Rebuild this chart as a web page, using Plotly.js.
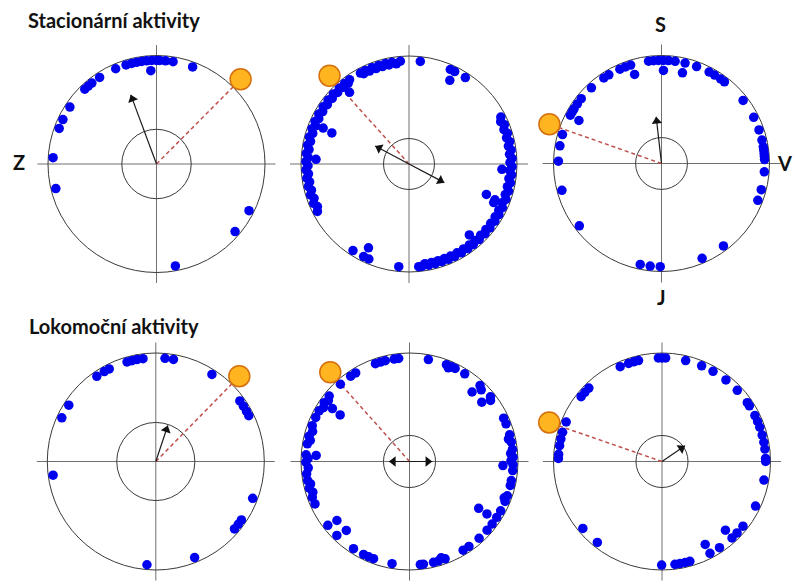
<!DOCTYPE html>
<html><head><meta charset="utf-8">
<script src="https://cdn.plot.ly/plotly-3.0.1.min.js"></script>
<style>html,body{margin:0;padding:0;background:#fff;overflow:hidden}#chart{width:794px;height:581px}</style>
</head><body><div id="chart"></div>
<script>
// ---------- data (bearings in degrees, clockwise from S/north) ----------
const rowTitles = ['Stacionární aktivity', 'Lokomoční aktivity'];
const compassLabels = ['S', 'J', 'Z', 'V'];
const ringRadius = [0.955, 0.935, 0.862, 0.77];   // stacking level of dots on the rim

// Stacionární – panel 1
const st1Ring1 = [273.5,256.3,290.1,295.4,303.3,316.2,318.8,321.4,326.7,336.8,342.9,346.1,348.9,351.7,354.5,357.3,0,1.8,5,9.2,20.4,116.8,130.7,169.5];
const st1Ring1b = [];
const st1Ring2 = [356.5];
const st1Ring3 = [];
// Stacionární – panel 2
const st2Ring1 = [6.3,23.6,26.3,33.1,62.9,67.6,72.6,77.5,82.2,86.9,91.5,96.1,100.6,105.3,110,115.1,119.4,123.7,128.3,132.5,137.1,141.4,145.2,149.5,153.7,157.5,161.4,165.2,169,172.8,174.6,185.7,212.9,206.1,202.9,242.6,247.6,252.6,257.4,262.1,266.7,271.3,275.9,280.6,285.2,290,294.4,299,303.7,308.3,312.8,317.5,321.3,324.8,331.9,334.9,339,342.9,346.8,350.5,355.2];
const st2Ring1b = [65.2,70.1,75,79.8,84.5,89.2,93.8,98.3,103,107.6,112.5,117.2,121.5,126,130.4,134.8,139.2,143.3,147.3,151.6,155.6,159.5,163.3,167.1,170.9,245.1,250.1,255,259.8,264.4,269,273.6,278.2,282.9,287.6,292.2,296.7,301.3,306,310.5,315.1,319.4,323,333.4,337,341,344.8,348.6,352.8];
const st2Ring2 = [26,93.3,112.6,114.5,139.6,205.8,272.9,292.7,320.3];
const st2Ring3 = [111.5,291.9];
// Stacionární – panel 3
const st3Ring1 = [352.8,355.6,358.3,1.1,3.9,7.6,13.2,19.9,27.5,31,35,37.6,52.3,63.4,71,76.9,80.7,82.5,84.4,86,87.8,94.6,104.7,110.9,143.1,156.8,180.7,186.3,191.9,232.8,254.9,271.3,279.9,286.3,297.9,300,302,305.3,308.9,317.2,326,329.3,336.2,339.5,342.6];
const st3Ring1b = [];
const st3Ring2 = [1.2,13,343.2,297.5];
const st3Ring3 = [];
// Lokomoční – panel 4
const lo1Ring1 = [343.9,346.7,349.5,352.9,5.1,9.8,325.3,330.2,333.3,302.9,294.9,262.4,184.9,158,130.6,127.3,124.3,110.8,32.8,54.2,57.7,61.1,63.8];
const lo1Ring1b = [];
const lo1Ring2 = [];
const lo1Ring3 = [];
// Lokomoční – panel 5
const lo2Ring1 = [351.5,354,10.5,20.9,24,26.1,32.2,42.9,51.4,65.3,68.7,75.1,79.2,83.3,87.6,91.8,95,100.6,103.4,109.3,112.7,118.4,122.7,127.1,131.5,137.8,145,148.8,159.9,163.8,166.6,172.3,174,189.7,200.3,203.2,206.3,212.7,224.5,232,245.8,249.7,255.1,259.4,263.1,269.6,273.7,279.8,284.1,290.2,295.2,299.3,304.6,309.2,318.2,325.4,328.7,340.8,343.7,346.5];
const lo2Ring1b = [22.5,45,53,77.2,85.5,89.7,111,161.8,252.4,257.2,266.4,271.7,282,287.2,302,306.9];
const lo2Ring2 = [42,50.6,92.5,124.1,222.5,230.9,273.7,304.5];
const lo2Ring3 = [124.1,303.9];
// Lokomoční – panel 6
const lo3Ring1 = [358,0,2,336.2,341.2,344.1,346.9,13.2,22.5,29.5,38.1,46.6,55.4,57.5,63.7,67.3,70.7,75.2,79.3,83.1,88.3,90,100.3,115.5,128.6,133.6,137.5,146.3,152.4,164.4,167,170,172.8,180.2,218.6,229.8,271.7,274,278.8,282.6,286.4,292.4,308.7,311.9,315.1];
const lo3Ring1b = [];
const lo3Ring2 = [137.3,152.5];
const lo3Ring3 = [];

// orange marker (direction and distance), mean-vector arrows [bearing, length], inner circle radius
const orangeTheta = [44.8, 318, 289.3, 44.4, 318.4, 289.1];
const orangeR     = [1.10, 1.10, 1.10, 1.10, 1.10, 1.10];
const arrowTheta  = [[339.6], [298.1, 117.8], [353.5], [18.4], [270, 90], [55.7]];
const arrowLen    = [[0.68], [0.355, 0.37], [0.435], [0.35], [0.19, 0.21], [0.257]];
const innerCircle = [0.32, 0.236, 0.24, 0.36, 0.24, 0.24];

const ringSets = [
  [st1Ring1, st1Ring1b, st1Ring2, st1Ring3], [st2Ring1, st2Ring1b, st2Ring2, st2Ring3], [st3Ring1, st3Ring1b, st3Ring2, st3Ring3],
  [lo1Ring1, lo1Ring1b, lo1Ring2, lo1Ring3], [lo2Ring1, lo2Ring1b, lo2Ring2, lo2Ring3], [lo3Ring1, lo3Ring1b, lo3Ring2, lo3Ring3]
];

// ---------- layout geometry (pixels) ----------
const W = 794, H = 581;
const RMAX = 1.10;           // radial range; the outer circle sits at r = 1
const geo = [
  {cx:156.5, cy:164, R:108.5}, {cx:409, cy:164, R:108}, {cx:661.5, cy:163.5, R:108},
  {cx:155.8, cy:461.5, R:108.5}, {cx:409.5, cy:461.5, R:108.5}, {cx:662, cy:461.5, R:108.5}
];

const traces = [];
const layout = {
  width: W, height: H, margin: {l:0, r:0, t:0, b:0},
  paper_bgcolor: '#ffffff', plot_bgcolor: '#ffffff', showlegend: false,
  shapes: [], annotations: []
};

geo.forEach((g, i) => {
  const key = i === 0 ? 'polar' : 'polar' + (i + 1);
  const Rd = g.R * RMAX;
  layout[key] = {
    domain: {x: [(g.cx - Rd) / W, (g.cx + Rd) / W],
             y: [Math.max(0, (H - g.cy - Rd) / H), Math.min(1, (H - g.cy + Rd) / H)]},
    bgcolor: 'rgba(0,0,0,0)',
    angularaxis: {rotation: 90, direction: 'clockwise', showgrid: false, showticklabels: false, ticks: '',
                  showline: false},
    radialaxis: {range: [0, RMAX], showline: false, showticklabels: false, ticks: '',
                 tickvals: [innerCircle[i], 1], showgrid: true, gridcolor: '#3a3a3a', gridwidth: 1}
  };
  // cross-hair axes
  const ext = 119;
  layout.shapes.push({type:'line', xref:'paper', yref:'paper', layer:'below',
    x0:(g.cx-ext)/W, x1:(g.cx+ext)/W, y0:(H-g.cy)/H, y1:(H-g.cy)/H, line:{color:'#707070', width:1}});
  layout.shapes.push({type:'line', xref:'paper', yref:'paper', layer:'below',
    x0:g.cx/W, x1:g.cx/W, y0:(H-g.cy-ext)/H, y1:(H-g.cy+ext)/H, line:{color:'#707070', width:1}});

  // red dashed direction line
  traces.push({type:'scatterpolar', subplot:key, mode:'lines', r:[0, orangeR[i]], theta:[orangeTheta[i], orangeTheta[i]],
    line:{color:'#c0504d', width:1.5, dash:'4px,3px'}, cliponaxis:false, hoverinfo:'skip'});

  // blue dots
  const r = [], t = [];
  ringSets[i].forEach((arr, k) => arr.forEach(th => { r.push(ringRadius[k]); t.push(th); }));
  traces.push({type:'scatterpolar', subplot:key, mode:'markers', r:r, theta:t,
    marker:{size:9.5, color:'#0000f0', line:{width:0}}, cliponaxis:false, hoverinfo:'skip'});

  // mean-vector arrow(s)
  const at = arrowTheta[i], al = arrowLen[i];
  const lr = at.length === 2 ? [al[0], 0, al[1]] : [0, al[0]];
  const lt = at.length === 2 ? [at[0], at[0], at[1]] : [at[0], at[0]];
  traces.push({type:'scatterpolar', subplot:key, mode:'lines', r:lr, theta:lt,
    line:{color:'#1a1a1a', width:1.2}, cliponaxis:false, hoverinfo:'skip'});
  traces.push({type:'scatterpolar', subplot:key, mode:'markers', r:al.map(v => v - 4.5 / g.R), theta:at,
    marker:{symbol:'triangle-up', size:9, angle:at, color:'#111111', line:{width:0}}, cliponaxis:false, hoverinfo:'skip'});

  // orange marker
  traces.push({type:'scatterpolar', subplot:key, mode:'markers', r:[orangeR[i]], theta:[orangeTheta[i]],
    marker:{size:21, color:'#ffb520', line:{color:'#d6700e', width:1.5}}, cliponaxis:false, hoverinfo:'skip'});
});

const titleFont = {family:'Lato, "Open Sans", sans-serif', size:20, color:'#111111', weight:'bold'};
layout.annotations.push({text:'<b>'+rowTitles[0]+'</b>', xref:'paper', yref:'paper', x:26/W, y:(H-20)/H,
  xanchor:'left', yanchor:'middle', showarrow:false, font:titleFont});
layout.annotations.push({text:'<b>'+rowTitles[1]+'</b>', xref:'paper', yref:'paper', x:27/W, y:(H-325.5)/H,
  xanchor:'left', yanchor:'middle', showarrow:false, font:titleFont});
const lblPos = [[660, 24.5, 'center'], [661, 297, 'center'], [18.7, 162, 'center'], [794, 163, 'right']];
compassLabels.forEach((s, k) => {
  layout.annotations.push({text:'<b>'+s+'</b>', xref:'paper', yref:'paper', x:lblPos[k][0]/W, y:(H-lblPos[k][1])/H,
    xanchor:lblPos[k][2], yanchor:'middle', showarrow:false, font:titleFont});
});

Plotly.newPlot('chart', traces, layout, {staticPlot:true, displayModeBar:false});
</script></body></html>
